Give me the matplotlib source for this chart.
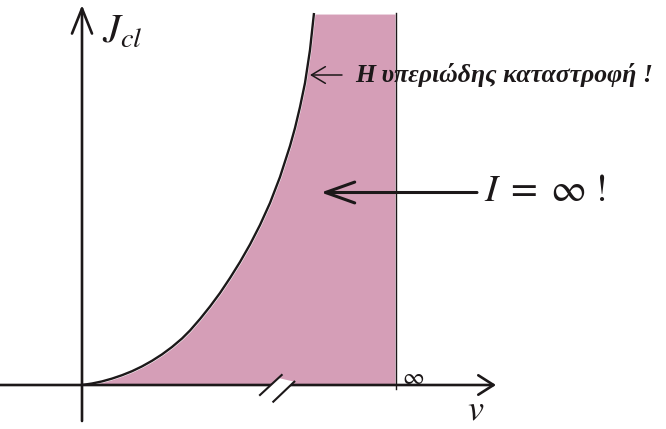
import matplotlib
matplotlib.use("Agg")
import matplotlib.pyplot as plt

# classical (Rayleigh-Jeans) spectral density
# v and J in arbitrary units, origin at the axes crossing
freq = [0, 1, 2, 3, 4, 5, 6, 7, 8, 9, 10, 10.8, 11.8, 12.8, 13.8, 14.8,
        15.8, 16.8, 17.8, 18.8, 19.8, 20.8, 21.3, 21.8, 22.3, 22.8, 23.2]
j_cl = [0, 0.15, 0.36, 0.64, 0.98, 1.38, 1.86, 2.42, 3.06, 3.8, 4.65, 5.45,
        6.6, 7.85, 9.2, 10.7, 12.3, 14.05, 16.0, 18.2, 20.8, 23.9, 25.7,
        27.8, 30.2, 33.5, 37.2]
v_inf = 31.4          # where the "infinity" marker sits on the v axis

y_label = r"$J_{cl}$"
x_label = r"$v$"
inf_label = r"$\infty$"
big_label = r"$I\;=\;\infty\;!$"
note_label = "Η υπεριώδης καταστροφή !"

ink = "#1c1819"
pink = "#d59eb7"

plt.rcParams["mathtext.fontset"] = "stix"

fig = plt.figure(figsize=(6.66, 4.29), dpi=100)
ax = fig.add_axes([0, 0, 1, 1])
ax.set_xlim(-8.2, 58.4)
ax.set_ylim(-4.4, 38.5)
ax.axis("off")

# shaded area under the curve up to "infinity"
ax.fill_betweenx(j_cl, freq, v_inf, facecolor=pink, edgecolor="white",
                 linewidth=1.5, zorder=1)
ax.plot([v_inf, v_inf], [-0.35, j_cl[-1]], color=ink, lw=1.0, zorder=2)
ax.plot(freq, j_cl, color=ink, lw=1.7, zorder=4, solid_capstyle="butt",
        solid_joinstyle="round")


def arrow(start, end, lw, hl, hw):
    ax.annotate("", xy=end, xytext=start,
                arrowprops=dict(arrowstyle="->,head_length=%s,head_width=%s" % (hl, hw),
                                lw=lw, color=ink, shrinkA=0, shrinkB=0,
                                mutation_scale=10),
                zorder=3)


# axes
arrow((-8.2, 0), (41.4, 0), 1.9, 1.1, 0.7)
arrow((0, -3.6), (0, 38.0), 1.9, 1.8, 0.72)

# axis break marks
ax.fill([18.56, 19.64, 21.23, 20.57], [-0.3, 0.7, 0.33, -0.3],
        color="white", zorder=3.5, lw=0)
ax.plot([17.8, 19.97], [-1.0, 1.0], color=ink, lw=1.5, zorder=3.6)
ax.plot([19.13, 21.23], [-1.67, 0.33], color=ink, lw=1.5, zorder=3.6)

# labels
ax.text(2.0, 34.2, y_label, fontsize=29, va="baseline", ha="left", color=ink)
ax.text(38.5, -3.5, x_label, fontsize=26, va="baseline", ha="left", color=ink)
ax.text(32.0, 0.85, inf_label, fontsize=17, va="center", ha="left", color=ink)

ax.text(40.2, 19.5, big_label, fontsize=28, va="center", ha="left", color=ink)
arrow((39.5, 19.25), (23.9, 19.25), 2.2, 2.1, 0.75)

arrow((26.0, 31.0), (22.8, 31.0), 1.1, 1.0, 0.6)
ax.text(27.3, 31.0, note_label, fontsize=18.5, va="center", ha="left",
        family="Liberation Serif", fontweight="bold", fontstyle="italic", color=ink)

fig.savefig("out.png", dpi=100)
